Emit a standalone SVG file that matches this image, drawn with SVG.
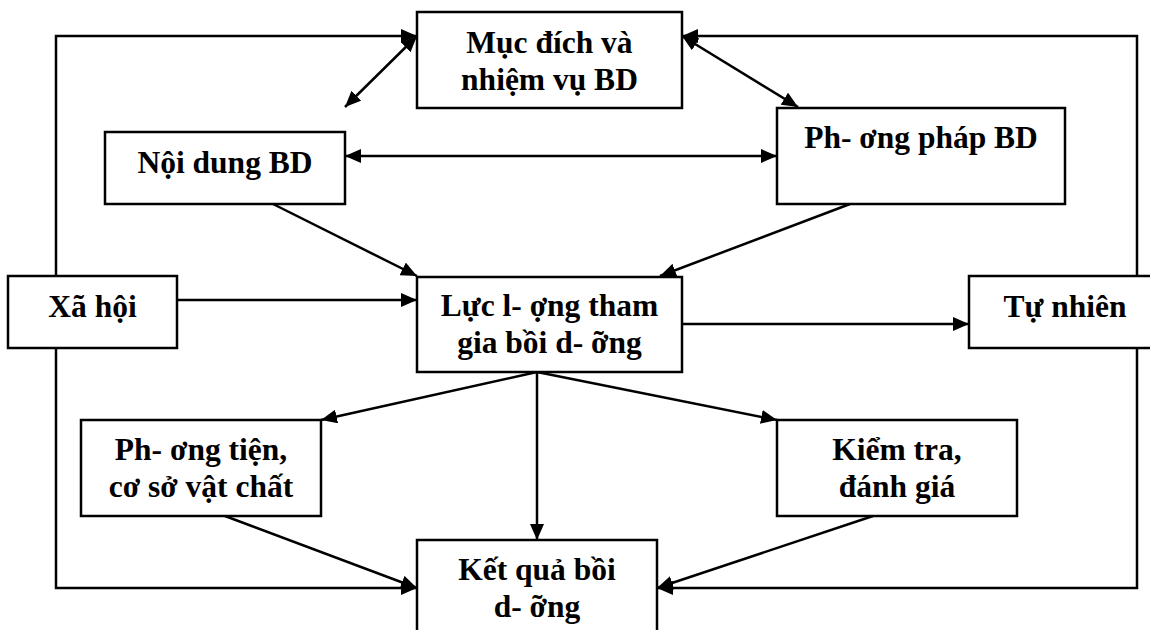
<svg xmlns="http://www.w3.org/2000/svg" width="1150" height="630" viewBox="0 0 1150 630">
<style>
.box{fill:#fff;stroke:#000;stroke-width:2.5}
.t{font-family:"Liberation Serif","Times New Roman",serif;font-weight:bold;font-size:31.5px;text-anchor:middle;fill:#000}
.c{fill:none;stroke:#000;stroke-width:2.5}
</style>
<defs>
<marker id="ah" viewBox="0 0 16 14" refX="16" refY="7" markerWidth="16" markerHeight="14" markerUnits="userSpaceOnUse" orient="auto-start-reverse"><path d="M0,0 L16,7 L0,14 z" fill="#000"/></marker>
</defs>
<rect width="1150" height="630" fill="#fff"/>
<g id="connectors">
<path class="c" d="M417,36 H56 V588 H417" marker-start="url(#ah)" marker-end="url(#ah)"/>
<path class="c" d="M682,36 H1137 V588 H657" marker-start="url(#ah)" marker-end="url(#ah)"/>
<path class="c" d="M345,107 L417,36" marker-start="url(#ah)" marker-end="url(#ah)"/>
<path class="c" d="M682,36 L798,107" marker-start="url(#ah)" marker-end="url(#ah)"/>
<path class="c" d="M345,156 H777" marker-start="url(#ah)" marker-end="url(#ah)"/>
<path class="c" d="M273,204 L417,276" marker-end="url(#ah)"/>
<path class="c" d="M850,204 L660,276" marker-end="url(#ah)"/>
<path class="c" d="M177,300 H417" marker-end="url(#ah)"/>
<path class="c" d="M682,324 H969" marker-end="url(#ah)"/>
<path class="c" d="M537,372 L321,420" marker-end="url(#ah)"/>
<path class="c" d="M537,372 V540" marker-end="url(#ah)"/>
<path class="c" d="M537,372 L777,420" marker-end="url(#ah)"/>
<path class="c" d="M225,516 L417,588" marker-end="url(#ah)"/>
<path class="c" d="M873,516 L657,588" marker-end="url(#ah)"/>
</g>
<g id="muc-dich">
<rect class="box" x="417" y="12" width="265" height="96"/>
<text class="t" x="549.5" y="53">Mục đích và</text>
<text class="t" x="549.5" y="90">nhiệm vụ BD</text>
</g>
<g id="noi-dung">
<rect class="box" x="105" y="132" width="240" height="72"/>
<text class="t" x="225" y="173">Nội dung BD</text>
</g>
<g id="phuong-phap">
<rect class="box" x="777" y="108" width="288" height="96"/>
<text class="t" x="921" y="148">Ph- ơng pháp BD</text>
</g>
<g id="xa-hoi">
<rect class="box" x="8" y="276" width="169" height="72"/>
<text class="t" x="92.5" y="317">Xã hội</text>
</g>
<g id="luc-luong">
<rect class="box" x="417" y="277" width="265" height="95"/>
<text class="t" x="549.5" y="316">Lực l- ợng tham</text>
<text class="t" x="549.5" y="353">gia bồi d- ỡng</text>
</g>
<g id="tu-nhien">
<rect class="box" x="969" y="276" width="200" height="72"/>
<text class="t" x="1065" y="317">Tự nhiên</text>
</g>
<g id="phuong-tien">
<rect class="box" x="81" y="420" width="240" height="96"/>
<text class="t" x="201" y="460">Ph- ơng tiện,</text>
<text class="t" x="201" y="497">cơ sở vật chất</text>
</g>
<g id="kiem-tra">
<rect class="box" x="777" y="420" width="240" height="96"/>
<text class="t" x="897" y="460">Kiểm tra,</text>
<text class="t" x="897" y="497">đánh giá</text>
</g>
<g id="ket-qua">
<rect class="box" x="417" y="540" width="240" height="100"/>
<text class="t" x="537" y="580">Kết quả bồi</text>
<text class="t" x="537" y="617">d- ỡng</text>
</g>
</svg>
